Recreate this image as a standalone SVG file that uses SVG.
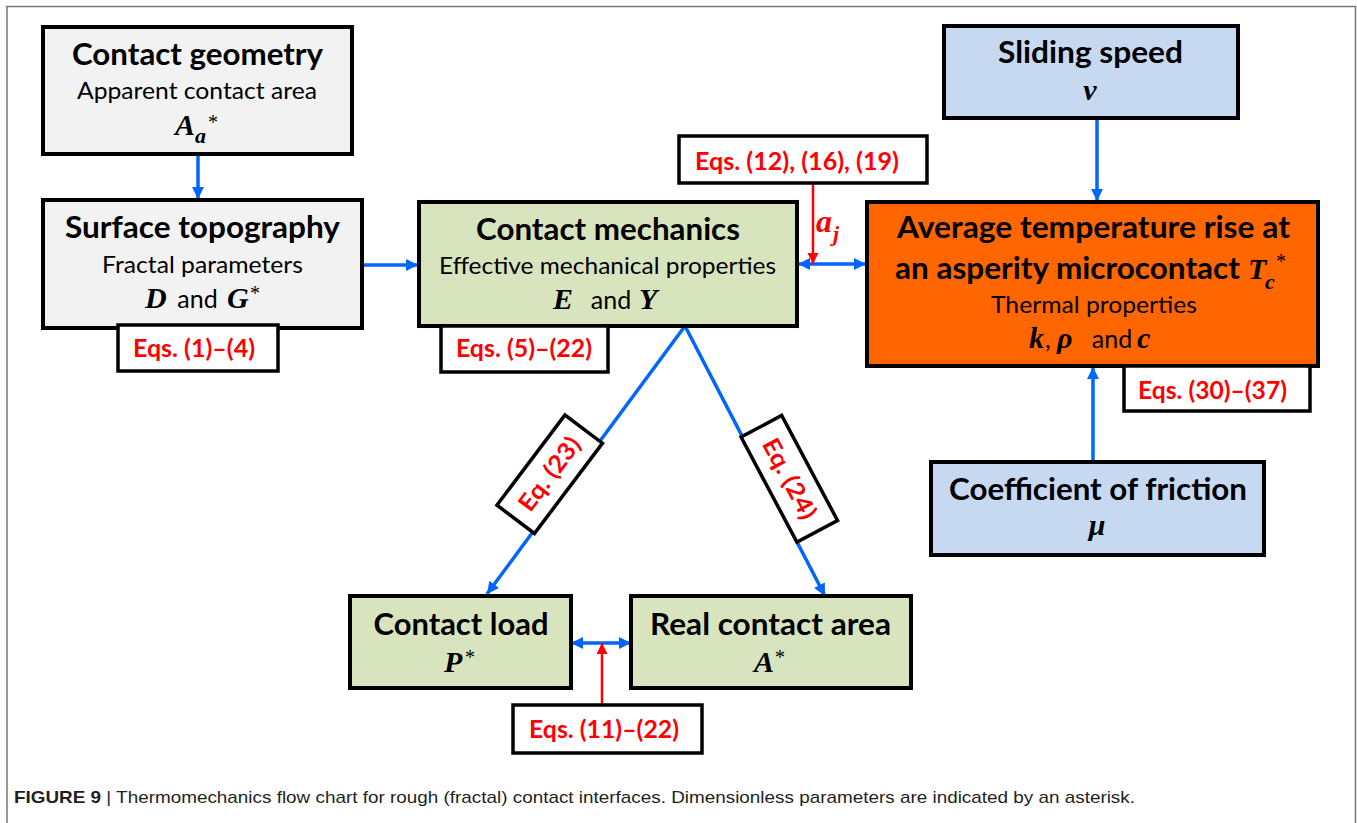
<svg xmlns="http://www.w3.org/2000/svg" width="1357" height="823" viewBox="0 0 1357 823">
<style>
.box{stroke:#000;stroke-width:4}
.gray{fill:#F2F2F2}
.green{fill:#D7E4BD}
.blue{fill:#C6D9F1}
.orange{fill:#FF6600}
.eqbox{fill:#fff;stroke:#000;stroke-width:3.5}
.t{font-family:Lato,"Open Sans",sans-serif;font-weight:700;font-size:31px;fill:#000;text-anchor:middle}
.s{font-family:Lato,"Open Sans",sans-serif;font-weight:400;font-size:23px;fill:#000;text-anchor:middle}
.m{font-family:"Liberation Serif",serif;font-weight:700;font-style:italic;font-size:30px;fill:#000}
.sub{font-family:"Liberation Serif",serif;font-weight:700;font-style:italic;font-size:22px;fill:#000}
.ast{font-family:"Liberation Serif",serif;font-size:20px;fill:#000}
.eq{font-family:Lato,"Open Sans",sans-serif;font-weight:700;font-size:24px;fill:#FF0000;text-anchor:middle}
.bl{stroke:#0066FF;stroke-width:3.5;fill:none}
.rd{stroke:#FF0000;stroke-width:2.5;fill:none}
.cap{font-family:"Liberation Sans",Arial,sans-serif;font-size:17px;fill:#231F20}
</style>
<defs>
<marker id="ab" viewBox="0 0 10 10" refX="10" refY="5" markerWidth="13" markerHeight="12" markerUnits="userSpaceOnUse" orient="auto-start-reverse"><path d="M0,0 L10,5 L0,10 z" fill="#0066FF"/></marker>
<marker id="ar" viewBox="0 0 10 10" refX="10" refY="5" markerWidth="12" markerHeight="11" markerUnits="userSpaceOnUse" orient="auto"><path d="M0,0 L10,5 L0,10 z" fill="#FF0000"/></marker>
</defs>
<rect width="1357" height="823" fill="#fff"/>
<path d="M7,830 V6.5 H1355.5 V830" fill="none" stroke="#777" stroke-width="1.5"/>

<g id="connectors">
<line class="bl" x1="198" y1="154" x2="198" y2="199" marker-end="url(#ab)"/>
<line class="bl" x1="362" y1="265" x2="418" y2="265" marker-end="url(#ab)"/>
<line class="bl" x1="798" y1="264" x2="866" y2="264" marker-start="url(#ab)" marker-end="url(#ab)"/>
<line class="rd" x1="813" y1="183" x2="813" y2="264" marker-end="url(#ar)"/>
<line class="bl" x1="1097" y1="118" x2="1097" y2="201" marker-end="url(#ab)"/>
<line class="bl" x1="1093" y1="461" x2="1093" y2="367" marker-end="url(#ab)"/>
<line class="bl" x1="685" y1="326" x2="487" y2="594" marker-end="url(#ab)"/>
<line class="bl" x1="685" y1="326" x2="825" y2="596" marker-end="url(#ab)"/>
<line class="bl" x1="571" y1="643" x2="631" y2="643" marker-start="url(#ab)" marker-end="url(#ab)"/>
<line class="rd" x1="602" y1="705" x2="602" y2="643" marker-end="url(#ar)"/>
</g>

<g id="contact-geometry">
<rect class="box gray" x="43" y="27" width="309" height="127"/>
<text class="t" x="197.5" y="65" textLength="251" lengthAdjust="spacingAndGlyphs">Contact geometry</text>
<text class="s" x="197" y="99" textLength="240" lengthAdjust="spacingAndGlyphs">Apparent contact area</text>
<text class="m" x="175" y="135">A</text><text class="sub" x="195" y="143">a</text><text class="ast" x="208" y="129">*</text>
</g>

<g id="surface-topography">
<rect class="box gray" x="43" y="200" width="319" height="128"/>
<text class="t" x="202.5" y="238" textLength="275" lengthAdjust="spacingAndGlyphs">Surface topography</text>
<text class="s" x="202.5" y="273" textLength="201" lengthAdjust="spacingAndGlyphs">Fractal parameters</text>
<text class="m" x="145" y="308">D</text>
<text class="s" x="197.5" y="308" style="font-size:25px">and</text>
<text class="m" x="227" y="308">G</text><text class="ast" x="250" y="300">*</text>
</g>

<g id="eq-1-4">
<rect class="eqbox" x="118" y="325" width="160" height="46"/>
<text class="eq" x="194" y="357" textLength="122" lengthAdjust="spacingAndGlyphs">Eqs. (1)–(4)</text>
</g>

<g id="contact-mechanics">
<rect class="box green" x="419" y="202" width="378" height="124"/>
<text class="t" x="608" y="240" textLength="264" lengthAdjust="spacingAndGlyphs">Contact mechanics</text>
<text class="s" x="607.5" y="274" textLength="337" lengthAdjust="spacingAndGlyphs">Effective mechanical properties</text>
<text class="m" x="553" y="309">E</text>
<text class="s" x="611" y="309" style="font-size:25px">and</text>
<text class="m" x="639" y="309">Y</text>
</g>

<g id="eq-5-22">
<rect class="eqbox" x="441" y="326" width="167" height="46"/>
<text class="eq" x="524" y="357" textLength="136" lengthAdjust="spacingAndGlyphs">Eqs. (5)–(22)</text>
</g>

<g id="eq-12-16-19">
<rect class="eqbox" x="679" y="136" width="248" height="47"/>
<text class="eq" x="797" y="170" textLength="204" lengthAdjust="spacingAndGlyphs">Eqs. (12), (16), (19)</text>
<text x="816" y="232" style="font-family:'Liberation Serif',serif;font-style:italic;font-weight:700;font-size:32px;fill:#FF0000">a</text>
<text x="833" y="241" style="font-family:'Liberation Serif',serif;font-style:italic;font-weight:700;font-size:22px;fill:#FF0000">j</text>
</g>

<g id="temperature-rise">
<rect class="box orange" x="867" y="202" width="451" height="164"/>
<text class="t" x="1093.5" y="238" textLength="393" lengthAdjust="spacingAndGlyphs">Average temperature rise at</text>
<text class="t" x="895" y="279" style="text-anchor:start" textLength="345" lengthAdjust="spacingAndGlyphs">an asperity microcontact</text>
<text class="m" x="1248" y="279">T</text><text class="sub" x="1265" y="289">c</text><text class="ast" x="1276" y="268">*</text>
<text class="s" x="1094" y="313" textLength="206" lengthAdjust="spacingAndGlyphs">Thermal properties</text>
<text class="m" x="1029" y="348">k</text><text class="s" x="1045" y="348" style="text-anchor:start;font-size:25px">,</text>
<text class="m" x="1057" y="348">ρ</text>
<text class="s" x="1112" y="348" style="font-size:25px">and</text>
<text class="m" x="1137" y="348">c</text>
</g>

<g id="eq-30-37">
<rect class="eqbox" x="1124" y="366" width="186" height="45"/>
<text class="eq" x="1212.5" y="399" textLength="149" lengthAdjust="spacingAndGlyphs">Eqs. (30)–(37)</text>
</g>

<g id="sliding-speed">
<rect class="box blue" x="944" y="26" width="294" height="92"/>
<text class="t" x="1090.5" y="63" textLength="185" lengthAdjust="spacingAndGlyphs">Sliding speed</text>
<text class="m" x="1090" y="100" style="text-anchor:middle">v</text>
</g>

<g id="coefficient-of-friction">
<rect class="box blue" x="931" y="462" width="333" height="93"/>
<text class="t" x="1098" y="500" textLength="298" lengthAdjust="spacingAndGlyphs">Coefficient of friction</text>
<text class="m" x="1097" y="535" style="text-anchor:middle">μ</text>
</g>

<g id="eq-23">
<g transform="translate(549.7,474.2) rotate(-53)">
<rect x="-56.5" y="-23.5" width="113" height="47" fill="#fff" stroke="#000" stroke-width="3.5"/>
<text class="eq" x="0" y="8" textLength="86" lengthAdjust="spacingAndGlyphs">Eq. (23)</text>
</g>
</g>

<g id="eq-24">
<g transform="translate(789.3,478.8) rotate(62)">
<rect x="-59.5" y="-23" width="119" height="46" fill="#fff" stroke="#000" stroke-width="3.5"/>
<text class="eq" x="0" y="8" textLength="88" lengthAdjust="spacingAndGlyphs">Eq. (24)</text>
</g>
</g>

<g id="contact-load">
<rect class="box green" x="350" y="596" width="221" height="92"/>
<text class="t" x="461" y="635" textLength="175" lengthAdjust="spacingAndGlyphs">Contact load</text>
<text class="m" x="444" y="672">P</text><text class="ast" x="465" y="664">*</text>
</g>

<g id="real-contact-area">
<rect class="box green" x="631" y="596" width="280" height="92"/>
<text class="t" x="770.5" y="635" textLength="241" lengthAdjust="spacingAndGlyphs">Real contact area</text>
<text class="m" x="754" y="672">A</text><text class="ast" x="775" y="664">*</text>
</g>

<g id="eq-11-22">
<rect class="eqbox" x="513" y="705" width="189" height="48"/>
<text class="eq" x="604" y="738" textLength="150" lengthAdjust="spacingAndGlyphs">Eqs. (11)–(22)</text>
</g>

<text class="cap" x="14" y="803" textLength="1121" lengthAdjust="spacingAndGlyphs"><tspan font-weight="700">FIGURE 9</tspan> | Thermomechanics flow chart for rough (fractal) contact interfaces. Dimensionless parameters are indicated by an asterisk.</text>
</svg>
